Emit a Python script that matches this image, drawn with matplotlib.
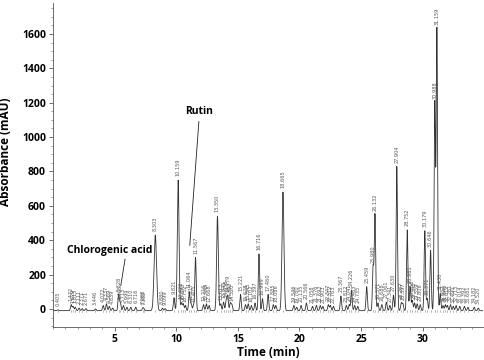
import numpy as np
import matplotlib
matplotlib.use("Agg")
import matplotlib.pyplot as plt
from matplotlib.ticker import MultipleLocator

plt.rcParams['font.family'] = ['Open Sans', 'DejaVu Sans']

# peak table: retention time (min), height (mAU)
peak_times = [0.405, 1.472, 1.629, 1.815, 2.111, 2.371, 2.671, 3.446, 4.072, 4.337,
              4.569, 4.839, 5.328, 5.463, 5.713, 5.999, 6.310, 6.716, 7.288, 7.382,
              8.303, 8.880, 9.099, 9.821, 10.159, 10.423, 10.573, 10.752, 11.064, 11.217,
              11.405, 11.567, 12.216, 12.449, 12.668, 13.350, 13.613, 13.845, 14.058, 14.179,
              14.392, 14.520, 15.221, 15.628, 15.845, 16.102, 16.397, 16.716, 16.999, 17.460,
              17.885, 18.086, 18.665, 19.546, 19.780, 20.135, 20.566, 21.058, 21.376, 21.692,
              21.903, 22.347, 22.512, 22.763, 23.367, 23.812, 24.041, 24.226, 24.483, 24.735,
              25.459, 25.980, 26.132, 26.371, 26.688, 27.061, 27.341, 27.630, 27.904, 28.267,
              28.397, 28.752, 28.981, 29.156, 29.348, 29.559, 29.806, 30.179, 30.371, 30.646,
              30.988, 31.159, 31.430, 31.652, 31.843, 32.012, 32.261, 32.490, 32.713, 33.014,
              33.392, 33.681, 34.182, 34.520]
peak_heights = [5, 35, 25, 20, 15, 12, 12, 10, 30, 40,
                25, 15, 95, 45, 30, 20, 20, 20, 15, 10,
                440, 15, 12, 75, 760, 45, 40, 30, 110, 40,
                30, 310, 35, 40, 30, 550, 40, 50, 60, 85,
                45, 35, 95, 35, 40, 30, 45, 330, 70, 95,
                35, 30, 690, 30, 20, 30, 45, 25, 30, 30,
                25, 35, 30, 25, 85, 30, 35, 120, 30, 25,
                140, 255, 560, 45, 35, 50, 30, 90, 840, 45,
                40, 470, 140, 60, 45, 40, 35, 465, 70, 350,
                1210, 1640, 100, 30, 35, 30, 35, 25, 30, 25,
                25, 20, 20, 15]
broad_peaks = {8.303: 0.10, 18.665: 0.08, 13.350: 0.07, 10.159: 0.07}
baseline_level = -10

compounds = ["Chlorogenic acid", "Rutin"]

t = np.linspace(0, 34.9, 8000)
signal = np.full_like(t, baseline_level, dtype=float)
for pt, ph in zip(peak_times, peak_heights):
    s = broad_peaks.get(pt, 0.055)
    signal += ph * np.exp(-0.5 * ((t - pt) / s) ** 2)

fig = plt.figure(figsize=(4.84, 3.6), dpi=100)
ax = fig.add_axes([53 / 484, 1 - 327 / 360, 430 / 484, 324 / 360])

ax.plot(t, signal, color='#333333', lw=0.6)

# integration marks and retention-time labels
for pt, ph in zip(peak_times, peak_heights):
    ax.plot([pt, pt], [baseline_level - 6, baseline_level + 6], color='#888888', lw=0.4)
    ax.text(pt, ph + baseline_level + 22, f"{pt:.3f}", rotation=90, ha='center', va='bottom',
            fontsize=3.6, color='#555555', family='DejaVu Sans')

# compound annotations
ax.text(4.6, 340, compounds[0], ha='center', va='center', fontsize=7.5, fontweight='bold')
ax.plot([5.85, 5.5], [290, 135], color='#222222', lw=0.6)
ax.text(11.84, 1150, compounds[1], ha='center', va='center', fontsize=7.5, fontweight='bold')
ax.plot([11.84, 11.1], [1090, 370], color='#222222', lw=0.6)

ax.set_xlim(0, 34.9)
ax.set_ylim(-105, 1780)
ax.set_xticks([5, 10, 15, 20, 25, 30])
ax.set_yticks([0, 200, 400, 600, 800, 1000, 1200, 1400, 1600])
ax.xaxis.set_minor_locator(MultipleLocator(1))
ax.yaxis.set_minor_locator(MultipleLocator(50))
ax.tick_params(which='major', length=3, width=0.6, color='#555555', labelsize=7.5, pad=2)
ax.tick_params(which='minor', length=1.5, width=0.5, color='#777777')
for lab in ax.get_xticklabels() + ax.get_yticklabels():
    lab.set_fontweight('bold')

for side in ['top', 'right']:
    ax.spines[side].set_visible(False)
for side in ['left', 'bottom']:
    ax.spines[side].set_linewidth(0.6)
    ax.spines[side].set_color('#555555')

ax.set_xlabel('Time (min)', fontsize=8.5, fontweight='bold')
ax.set_ylabel('Absorbance (mAU)', fontsize=8.5, fontweight='bold')
ax.xaxis.set_label_coords(0.5, -0.06)
ax.yaxis.set_label_coords(-0.095, 0.54)

fig.savefig('out.png', dpi=100)
